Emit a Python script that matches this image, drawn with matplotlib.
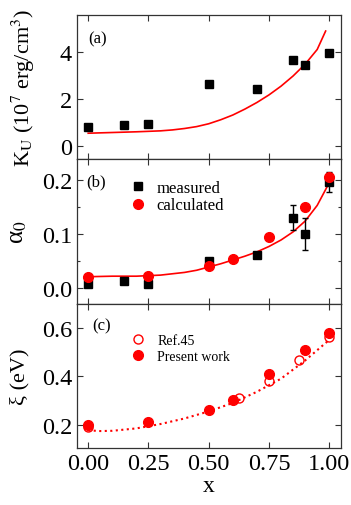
import matplotlib
matplotlib.use("Agg")
import matplotlib.pyplot as plt
from matplotlib.ticker import MultipleLocator

plt.rcParams["font.family"] = ["Liberation Serif", "DejaVu Serif"]
plt.rcParams["mathtext.fontset"] = "stix"

# (a) anisotropy constant K_U
ku_x = [0.0, 0.15, 0.25, 0.5, 0.7, 0.85, 0.9, 1.0]
ku_y = [0.82, 0.92, 0.97, 2.63, 2.45, 3.64, 3.43, 3.96]
ku_fit_x = [0.0, 0.1, 0.2, 0.3, 0.35, 0.4, 0.45, 0.5, 0.55, 0.6, 0.65, 0.7, 0.75,
            0.8, 0.85, 0.9, 0.95, 0.985]
ku_fit_y = [0.56, 0.59, 0.62, 0.66, 0.70, 0.76, 0.84, 0.96, 1.13, 1.33, 1.58, 1.86, 2.18,
            2.55, 2.98, 3.48, 4.1, 4.88]

# (b) damping alpha_0
a_meas_x = [0.0, 0.15, 0.25, 0.5, 0.7, 0.85, 0.9, 1.0]
a_meas_y = [0.007, 0.014, 0.008, 0.050, 0.062, 0.130, 0.100, 0.196]
a_meas_err = [0.0, 0.0, 0.0, 0.0, 0.0, 0.023, 0.030, 0.019]
a_calc_x = [0.0, 0.25, 0.5, 0.6, 0.75, 0.9, 1.0]
a_calc_y = [0.021, 0.022, 0.040, 0.053, 0.094, 0.150, 0.206]
a_fit_x = [0.0, 0.1, 0.2, 0.3, 0.4, 0.45, 0.5, 0.55, 0.6, 0.65, 0.7, 0.75, 0.8, 0.85,
           0.9, 0.95, 1.0]
a_fit_y = [0.021, 0.022, 0.022, 0.024, 0.029, 0.033, 0.039, 0.045, 0.052, 0.059, 0.067,
           0.077, 0.089, 0.104, 0.124, 0.153, 0.195]

# (c) xi
xi_ref_x = [0.0, 0.625, 0.75, 0.875, 1.0]
xi_ref_y = [0.19, 0.31, 0.38, 0.465, 0.56]
xi_pw_x = [0.0, 0.25, 0.5, 0.6, 0.75, 0.9, 1.0]
xi_pw_y = [0.20, 0.21, 0.26, 0.30, 0.41, 0.51, 0.58]
xi_fit_x = [0.0, 0.05, 0.1, 0.2, 0.3, 0.4, 0.5, 0.6, 0.7, 0.8, 0.9, 1.0]
xi_fit_y = [0.177, 0.174, 0.175, 0.185, 0.203, 0.226, 0.255, 0.29, 0.336, 0.39, 0.465, 0.55]

red = "#ff0000"

fig, (ax1, ax2, ax3) = plt.subplots(3, 1, figsize=(3.51, 5.06), dpi=100, sharex=True)
fig.subplots_adjust(left=0.219, right=0.971, top=0.968, bottom=0.1126, hspace=0)

ax1.plot(ku_fit_x, ku_fit_y, "-", color=red, lw=1.2)
ax1.plot(ku_x, ku_y, "s", color="black", ms=5.5)
ax1.set_ylim(-0.55, 5.55)
ax1.yaxis.set_major_locator(MultipleLocator(2))
ax1.set_ylabel(r"K$_\mathrm{U}$ (10$^7$ erg/cm$^3$)", fontsize=16)
ax1.yaxis.set_label_coords(-0.15, 0.5)
ax1.text(0.045, 0.84, "(a)", transform=ax1.transAxes, fontsize=12, va="center")

ax2.plot(a_fit_x, a_fit_y, "-", color=red, lw=1.2)
ax2.errorbar(a_meas_x, a_meas_y, yerr=a_meas_err, fmt="none", ecolor="black",
             capsize=2.5, elinewidth=1)
ax2.plot(a_meas_x, a_meas_y, "s", color="black", ms=5.5, label="measured")
ax2.plot(a_calc_x, a_calc_y, "o", color=red, ms=7, label="calculated")
ax2.set_ylim(-0.029, 0.238)
ax2.yaxis.set_major_locator(MultipleLocator(0.1))
ax2.yaxis.set_minor_locator(MultipleLocator(0.05))
ax2.set_ylabel("α$_0$", fontsize=18)
ax2.yaxis.set_label_coords(-0.18, 0.5)
ax2.text(0.034, 0.846, "(b)", transform=ax2.transAxes, fontsize=12, va="center")
ax2.legend(loc="upper left", bbox_to_anchor=(0.2, 0.86), frameon=False, fontsize=12,
           handlelength=1.0, handletextpad=0.6, labelspacing=0.1, borderaxespad=0,
           borderpad=0)

ax3.plot(xi_fit_x, xi_fit_y, ":", color=red, lw=1.5)
ax3.plot(xi_ref_x, xi_ref_y, "o", mfc="none", mec=red, ms=6.5, mew=1, label="Ref.45")
ax3.plot(xi_pw_x, xi_pw_y, "o", color=red, ms=7, label="Present work")
ax3.set_ylim(0.104, 0.699)
ax3.yaxis.set_major_locator(MultipleLocator(0.2))
ax3.set_ylabel("ξ (eV)", fontsize=16)
ax3.yaxis.set_label_coords(-0.18, 0.5)
ax3.text(0.057, 0.847, "(c)", transform=ax3.transAxes, fontsize=12, va="center")
ax3.legend(loc="upper left", bbox_to_anchor=(0.205, 0.79), frameon=False, fontsize=10,
           handlelength=1.0, handletextpad=0.9, labelspacing=0.2, borderaxespad=0,
           borderpad=0)

ax3.set_xlim(-0.047, 1.048)
ax3.xaxis.set_major_locator(MultipleLocator(0.25))
ax3.xaxis.set_major_formatter(plt.FuncFormatter(lambda v, p: f"{v:.2f}"))
ax3.set_xlabel("x", fontsize=17, labelpad=1)

for ax in (ax1, ax2, ax3):
    ax.tick_params(which="both", direction="in", top=True, right=True, labelsize=17.5,
                   width=0.8, color="#333333")
    ax.tick_params(which="major", length=4)
    ax.tick_params(which="minor", length=2.5)
    for sp in ax.spines.values():
        sp.set_linewidth(0.9)
        sp.set_color("#333333")

fig.savefig("out.png", dpi=100)
